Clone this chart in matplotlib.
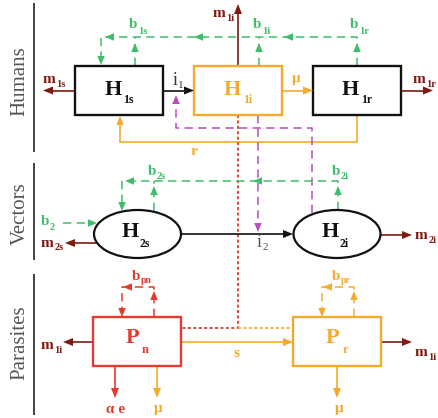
import math
import matplotlib
matplotlib.use('Agg')
import matplotlib.pyplot as plt
from matplotlib.patches import Rectangle, Ellipse, Polygon

plt.rcParams['lines.scale_dashes'] = False
SERIF = ['Liberation Serif', 'DejaVu Serif']

# ---------------- data: labels of the diagram ----------------
section_labels = ['Humans', 'Vectors', 'Parasites']
human_boxes = [('H', '1s'), ('H', '1i'), ('H', '1r')]
vector_nodes = [('H', '2s'), ('H', '2i')]
parasite_boxes = [('P', 'n'), ('P', 'r')]
human_births = [('b', '1s'), ('b', '1i'), ('b', '1r')]
human_deaths = [('m', '1s'), ('m', '1i'), ('m', '1r')]
vector_births = [('b', '2'), ('b', '2s'), ('b', '2i')]
vector_deaths = [('m', '2s'), ('m', '2i')]
infection_labels = [('i', '1'), ('i', '2')]
parasite_births = [('b', 'pn'), ('b', 'pr')]
parasite_deaths = [('m', '1i'), ('m', '1i')]
rate_mu, rate_r, rate_s, rate_ae = 'μ', 'r', 's', 'α e'

GREEN = '#3EBE6A'
ORANGE = '#F6AA2B'
MAGENTA = '#B84DBE'
RED = '#E33B2E'
DRED = '#7D1B12'
BLACK = '#111111'
GRAY = '#555555'

fig = plt.figure(figsize=(4.38, 4.18), dpi=100)
ax = fig.add_axes([0, 0, 1, 1])
ax.set_xlim(0, 438)
ax.set_ylim(418, 0)
ax.axis('off')

pending = []


def lab(x, y, base, sub, color, size=11, subsize=7.5, drop=4, gap=0.5,
        ha='left', weight='bold'):
    t1 = ax.text(x, y, base, color=color, fontsize=size, fontweight=weight,
                 family=SERIF, va='baseline', ha='left', zorder=6)
    t2 = None
    if sub:
        t2 = ax.text(x, y + drop, sub, color=color, fontsize=subsize,
                     fontweight=weight, family=SERIF, va='baseline',
                     ha='left', zorder=6)
    pending.append((t1, t2, x, ha, gap))


def layout():
    fig.canvas.draw()
    r = fig.canvas.get_renderer()
    for t1, t2, x, ha, gap in pending:
        w1 = t1.get_window_extent(r).width
        w2 = t2.get_window_extent(r).width if t2 is not None else 0
        total = w1 + (gap + w2 if t2 is not None else 0)
        x0 = {'left': x, 'center': x - total / 2, 'right': x - total}[ha]
        t1.set_x(x0)
        if t2 is not None:
            t2.set_x(x0 + w1 + gap)


def line(pts, color, style='-', lw=1.1, z=2):
    xs = [p[0] for p in pts]
    ys = [p[1] for p in pts]
    ls = {'-': '-', 'dash': (0, (6, 3.8)), 'dot': (0, (2.2, 1.7))}[style]
    ax.plot(xs, ys, color=color, lw=lw, ls=ls, solid_capstyle='butt',
            dash_capstyle='butt', solid_joinstyle='miter', zorder=z)


def head(tip, d, color, L=9, W=7.5, z=4):
    dirs = {'l': (-1, 0), 'r': (1, 0), 'u': (0, -1), 'd': (0, 1)}
    ux, uy = dirs[d] if isinstance(d, str) else d
    tx, ty = tip
    bx, by = tx - L * ux, ty - L * uy
    nx, ny = -uy, ux
    ax.add_patch(Polygon([(tx, ty), (bx + W / 2 * nx, by + W / 2 * ny),
                          (bx - W / 2 * nx, by - W / 2 * ny)], closed=True,
                         fc=color, ec='none', zorder=z))


def arrow(start, tip, color, lw=1.2, L=10, W=8):
    sx, sy = start
    tx, ty = tip
    dist = math.hypot(tx - sx, ty - sy)
    ux, uy = (tx - sx) / dist, (ty - sy) / dist
    line([start, (tx - ux * L * 0.8, ty - uy * L * 0.8)], color, '-', lw)
    head(tip, (ux, uy), color, L, W)


def box(x, y, w, h, color):
    ax.add_patch(Rectangle((x, y), w, h, fc='white', ec=color, lw=1.7,
                           zorder=3))


def oval(cx, cy, w, h, color):
    ax.add_patch(Ellipse((cx, cy), w, h, fc='white', ec=color, lw=1.6,
                         zorder=3))


# ---------------- section labels and separators ----------------
for name, yc in zip(section_labels, [81, 214, 343]):
    ax.text(20, yc, name, rotation=90, ha='center', va='center',
            fontsize=15, color=GRAY, family=SERIF)
for y0, y1 in [(3, 152), (163, 260), (274, 415)]:
    line([(34, y0), (34, y1)], '#222222', '-', lw=1.2)

# ---------------- humans ----------------
hcols = [BLACK, ORANGE, BLACK]
hx = [75, 194, 313]
for (b, s), x0, c in zip(human_boxes, hx, hcols):
    box(x0, 66, 87.5, 49, c)
    lab(x0 + 44, 95, b, s, c, size=16, subsize=8.5, drop=8, gap=2,
        ha='center')

arrow((162, 90.5), (194, 90.5), BLACK)
arrow((281, 90.5), (313, 90.5), ORANGE)
arrow((75, 90.5), (43, 90.5), DRED)
arrow((401, 90.5), (433, 90.5), DRED)
arrow((238, 66), (238, 4), DRED)

lab(43, 83, human_deaths[0][0], human_deaths[0][1], DRED)
lab(234, 17, human_deaths[1][0], human_deaths[1][1], DRED, ha='right')
lab(413, 83, human_deaths[2][0], human_deaths[2][1], DRED)
lab(173, 85, infection_labels[0][0], infection_labels[0][1], '#333333',
    size=13, subsize=8, drop=3, weight='normal')
lab(292, 82, rate_mu, None, ORANGE)

# births (green dashed)
line([(357, 66), (357, 37), (101, 37), (101, 58)], GREEN, 'dash')
line([(135, 66), (135, 37)], GREEN, 'dash')
line([(259, 66), (259, 37)], GREEN, 'dash')
for x in (135, 259, 357):
    head((x, 43), 'u', GREEN)
for x in (105, 194, 284):
    head((x, 37), 'l', GREEN)
head((101, 65), 'd', GREEN)
for (b, s), x in zip(human_births, [129, 253, 350]):
    lab(x, 28, b, s, GREEN, drop=6)

# recovery r (orange)
line([(357, 115), (357, 142), (120, 142), (120, 124)], ORANGE, '-', lw=1.2)
head((120, 116), 'u', ORANGE, L=9, W=7.5)
lab(194, 155, rate_r, None, ORANGE, ha='center')

# magenta infection links
line([(312, 213), (312, 128), (176, 128), (176, 100)], MAGENTA, 'dash')
head((176, 95), 'u', MAGENTA)
line([(258, 115), (258, 226)], MAGENTA, 'dash')
head((258, 232), 'd', MAGENTA)

# dotted parasite link
line([(238, 115), (238, 328), (181, 328)], RED, 'dot', lw=1.3)
line([(238, 328), (293, 328)], ORANGE, 'dot', lw=1.3)

# ---------------- vectors ----------------
for (b, s), cx in zip(vector_nodes, [137.5, 337]):
    oval(cx, 234, 87, 48, BLACK)
    lab(cx - 2, 237, b, s, BLACK, size=16, subsize=8.5, drop=10, gap=1,
        ha='center')

arrow((181, 234), (293, 234), BLACK)
arrow((97, 243), (65, 243), DRED)
arrow((381, 235), (412, 235), DRED)
line([(63, 223), (89, 223)], GREEN, 'dash')
head((97, 223), 'r', GREEN)
lab(41, 225, vector_births[0][0], vector_births[0][1], GREEN, drop=5)
lab(41, 247, vector_deaths[0][0], vector_deaths[0][1], DRED, drop=3)
lab(415, 239, vector_deaths[1][0], vector_deaths[1][1], DRED, drop=4)
lab(257, 247, infection_labels[1][0], infection_labels[1][1], GRAY,
    size=13, subsize=8, drop=3, weight='normal')

line([(338, 210), (338, 181), (122, 181), (122, 204)], GREEN, 'dash')
line([(154, 211), (154, 181)], GREEN, 'dash')
head((122, 211), 'd', GREEN)
head((154, 186), 'u', GREEN)
head((338, 186), 'u', GREEN)
head((125, 181), 'l', GREEN)
head((253, 181), 'l', GREEN)
lab(148, 175, vector_births[1][0], vector_births[1][1], GREEN, drop=4)
lab(332, 175, vector_births[2][0], vector_births[2][1], GREEN, drop=4)

# ---------------- parasites ----------------
pcols = [RED, ORANGE]
for (b, s), x0, c in zip(parasite_boxes, [93, 293], pcols):
    box(x0, 317, 88, 49, c)
    lab(x0 + 44, 343, b, s, c, size=16, subsize=9, drop=10, gap=3,
        ha='center')

arrow((181, 342), (293, 342), ORANGE)
lab(237, 357, rate_s, None, ORANGE, ha='center')
arrow((93, 342), (63, 342), DRED)
arrow((381, 342), (412, 342), DRED)
lab(41, 349, parasite_deaths[0][0], parasite_deaths[0][1], DRED)
lab(415, 356, parasite_deaths[1][0], parasite_deaths[1][1], DRED)

arrow((115, 366), (115, 398), RED)
arrow((157, 366), (157, 398), ORANGE)
arrow((337, 366), (337, 398), ORANGE)
lab(116, 413, rate_ae, None, RED, ha='center')
lab(158, 412, rate_mu, None, ORANGE, ha='center')
lab(339, 412, rate_mu, None, ORANGE, ha='center')

for (b, s), xl, c in zip(parasite_births, [122, 322], pcols):
    xr = xl + 32
    line([(xr, 317), (xr, 287), (xl, 287), (xl, 310)], c, 'dash')
    head((xr, 291), 'u', c)
    head((xl + 1, 287), 'l', c)
    head((xl, 317), 'd', c)
    lab(xl + 10, 280, b, s, c, drop=3, subsize=7)

layout()
fig.savefig('out.png', dpi=100)
